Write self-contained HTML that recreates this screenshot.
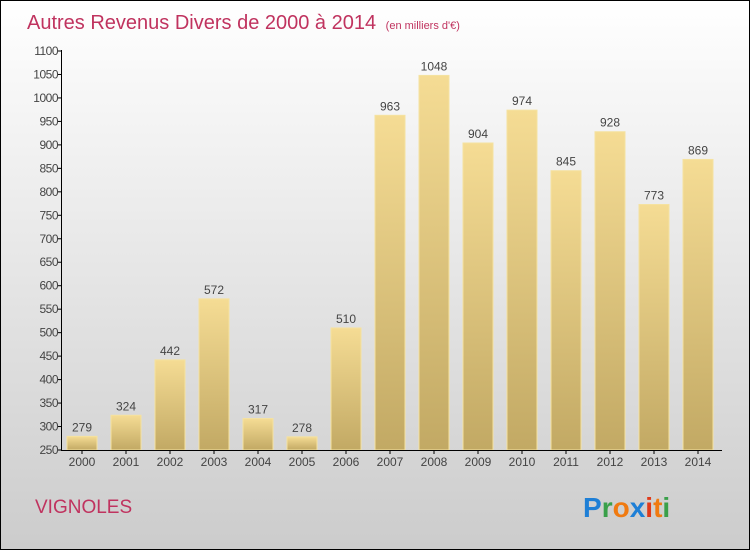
<!DOCTYPE html>
<html><head><meta charset="utf-8"><style>
body{margin:0;width:750px;height:550px;overflow:hidden;font-family:"Liberation Sans",sans-serif}
</style></head><body>
<svg id="c" width="750" height="550" xmlns="http://www.w3.org/2000/svg">
<defs>
<linearGradient id="bg" x1="0" y1="0" x2="0" y2="1"><stop offset="0" stop-color="#ffffff"/><stop offset="1" stop-color="#cccccc"/></linearGradient>
<linearGradient id="bar" x1="0" y1="0" x2="0" y2="1"><stop offset="0" stop-color="#f5dc94"/><stop offset="1" stop-color="#c2a964"/></linearGradient>
</defs>
<rect x="0.5" y="0.5" width="749" height="549" fill="url(#bg)" stroke="#000"/>
<text x="27" y="29" font-size="20" fill="#c0335f">Autres Revenus Divers de 2000 à 2014 <tspan font-size="11" dx="4">(en milliers d'€)</tspan></text>
<g id="bars"></g>
<g id="axes"></g>
<text x="35" y="513" font-size="19" fill="#c0335f">VIGNOLES</text>
<g font-size="28" font-weight="bold" font-family="Liberation Sans, sans-serif">
<text x="583" y="517"><tspan fill="#1e7fd6">P</tspan><tspan fill="#3aa04a">r</tspan><tspan fill="#f07a10">o</tspan><tspan fill="#1e7fd6">x</tspan><tspan fill="#e03a1a">i</tspan><tspan fill="#f07a10">t</tspan><tspan fill="#3aa04a">i</tspan></text>
</g>
</svg>
<script>
const categories=["2000","2001","2002","2003","2004","2005","2006","2007","2008","2009","2010","2011","2012","2013","2014"];
const values=[279,324,442,572,317,278,510,963,1048,904,974,845,928,773,869];
const yTicks=[250,300,350,400,450,500,550,600,650,700,750,800,850,900,950,1000,1050,1100];
const NS="http://www.w3.org/2000/svg";
function y(v){return 450-(v-250)*(399/850);}
function x(i){return 82+44*i;}
function mk(t,a,p){const e=document.createElementNS(NS,t);for(const k in a)e.setAttribute(k,a[k]);p.appendChild(e);return e;}
const B=document.getElementById('bars'),A=document.getElementById('axes');
values.forEach((v,i)=>{
 const r=mk('rect',{x:x(i)-15,y:y(v),width:30,height:450-y(v),fill:'url(#bar)',stroke:'#f5e2a0','stroke-width':1},B);
 
 
 const t=mk('text',{x:x(i),y:y(v)-5,'font-size':12,'text-anchor':'middle',fill:'#444'},B);
 t.textContent=v;
 
 
 const c=mk('text',{x:x(i),y:466,'font-size':12,'text-anchor':'middle',fill:'#444'},A);
 c.textContent=categories[i];
 
 
 mk('line',{x1:x(i),x2:x(i),y1:450,y2:454,stroke:'#000'},A);
});
yTicks.forEach(v=>{
 mk('line',{x1:58,x2:62,y1:y(v),y2:y(v),stroke:'#000'},A);
 const t=mk('text',{x:58,y:y(v)+4,'font-size':12,'text-anchor':'end',fill:'#444','letter-spacing':'-0.5'},A);
 t.textContent=v;
 
 
});
const ya=mk('line',{x1:61.5,x2:61.5,y1:50,y2:450,stroke:'#000'},A);


const xa=mk('line',{x1:61,x2:722,y1:450.5,y2:450.5,stroke:'#000'},A);


</script>
</body></html>
